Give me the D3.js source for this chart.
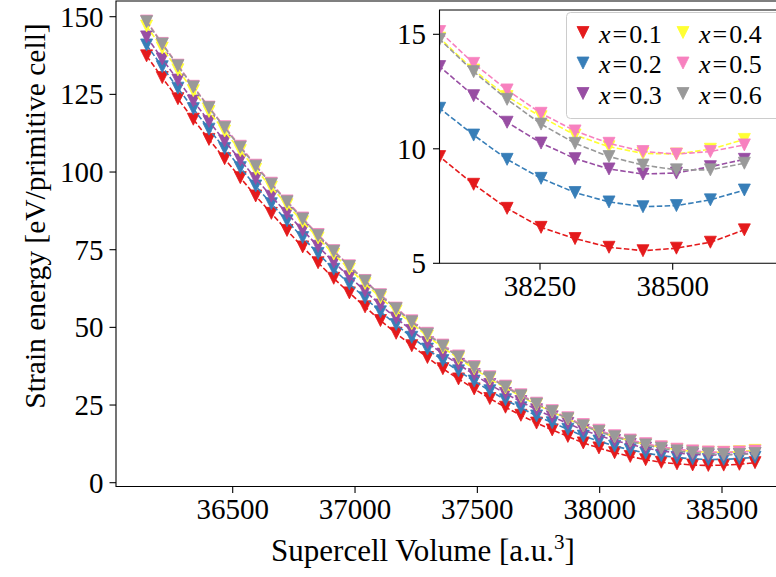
<!DOCTYPE html>
<html>
<head>
<meta charset="utf-8">
<script src="https://cdn.jsdelivr.net/npm/d3@7"></script>
<style>
  body { margin: 0; background: #fff; }
  svg { display: block; }
  text { font-family: "Liberation Serif", "DejaVu Serif", serif; fill: #000; }
</style>
</head>
<body>
<svg width="776" height="577"></svg>
<script>
// supercell volumes (a.u.^3), same for every composition
const volumes = [36148, 36212, 36276, 36339, 36403, 36467, 36531, 36594, 36658, 36722,
  36786, 36849, 36913, 36977, 37041, 37104, 37168, 37232, 37296, 37359,
  37423, 37487, 37551, 37615, 37678, 37742, 37806, 37870, 37933, 37997,
  38061, 38125, 38188, 38252, 38316, 38380, 38444, 38507, 38571, 38635]

// strain energy per composition x
const energyX01 = [137.4, 130.4, 123.6, 117.0, 110.5, 104.3, 98.2, 92.3, 86.7, 81.2,
  75.9, 70.8, 65.8, 61.1, 56.6, 52.2, 48.1, 44.1, 40.3, 36.7,
  33.4, 30.2, 27.1, 24.3, 21.7, 19.2, 17.0, 14.9, 12.8, 11.2,
  9.66, 8.45, 7.40, 6.57, 6.08, 5.70, 5.55, 5.66, 5.92, 6.46]
const energyX02 = [140.9, 133.9, 127.0, 120.4, 113.8, 107.6, 101.4, 95.5, 89.8, 84.3,
  78.9, 73.8, 68.7, 64.0, 59.5, 55.0, 50.9, 46.8, 43.0, 39.3,
  36.0, 32.7, 29.6, 26.7, 24.1, 21.5, 19.3, 17.2, 15.0, 13.4,
  11.77, 10.60, 9.54, 8.71, 8.09, 7.68, 7.47, 7.52, 7.77, 8.20]
const energyX03 = [143.5, 136.4, 129.6, 122.9, 116.3, 110.0, 103.9, 97.9, 92.2, 86.7,
  81.3, 76.1, 71.0, 66.3, 61.7, 57.2, 53.0, 49.0, 45.1, 41.4,
  38.1, 34.8, 31.6, 28.7, 26.1, 23.5, 21.2, 19.1, 16.9, 15.2,
  13.59, 12.32, 11.16, 10.25, 9.57, 9.12, 8.90, 8.94, 9.22, 9.54]
const energyX04 = [147.0, 139.9, 132.9, 126.2, 119.5, 113.2, 106.9, 100.9, 95.1, 89.5,
  84.0, 78.8, 73.6, 68.8, 64.1, 59.6, 55.3, 51.2, 47.2, 43.5,
  40.0, 36.7, 33.4, 30.5, 27.8, 25.1, 22.8, 20.5, 18.3, 16.5,
  14.83, 13.44, 12.28, 11.40, 10.60, 10.09, 9.80, 9.77, 9.98, 10.41]
const energyX05 = [148.6, 141.4, 134.4, 127.6, 120.9, 114.6, 108.3, 102.2, 96.4, 90.7,
  85.2, 79.9, 74.7, 69.8, 65.1, 60.5, 56.2, 52.1, 48.1, 44.3,
  40.8, 37.4, 34.1, 31.1, 28.3, 25.6, 23.2, 20.9, 18.7, 16.9,
  15.12, 13.73, 12.57, 11.55, 10.78, 10.24, 9.88, 9.77, 9.88, 10.17]
const energyX06 = [148.4, 141.2, 134.2, 127.4, 120.7, 114.3, 108.0, 101.9, 96.1, 90.4,
  84.9, 79.6, 74.5, 69.6, 64.9, 60.3, 56.0, 51.8, 47.8, 44.0,
  40.5, 37.1, 33.8, 30.8, 28.0, 25.3, 22.9, 20.6, 18.3, 16.5,
  14.78, 13.37, 12.16, 11.08, 10.24, 9.66, 9.29, 9.08, 9.08, 9.37]

const compositions = ['0.1', '0.2', '0.3', '0.4', '0.5', '0.6']
const colors = ['#e41a1c', '#377eb8', '#984ea3', '#ffff33', '#f781bf', '#999999']

const xTicks = [36500, 37000, 37500, 38000, 38500]
const yTicks = [0, 25, 50, 75, 100, 125, 150]
const insetXTicks = [38250, 38500]
const insetYTicks = [5, 10, 15]

// build series table
const allEnergies = [energyX01, energyX02, energyX03, energyX04, energyX05, energyX06]
const series = compositions.map((c, i) => ({
  label: c,
  color: colors[i],
  values: volumes.map((v, j) => ({ v: v, e: allEnergies[i][j] }))
}))

const svg = d3.select('svg')

// ---- main axes ----
const main = { left: 116, top: 1, right: 790, bottom: 486.5 }
const x = d3.scaleLinear().domain([36500, 38500]).range([232.7, 722])
const y = d3.scaleLinear().domain([0, 150]).range([482.7, 16.7])

// ---- inset axes ----
const inset = { left: 439.5, top: 10, right: 790, bottom: 263.3 }
const ix = d3.scaleLinear().domain([38250, 38500]).range([540, 672.7])
const iy = d3.scaleLinear().domain([5, 15]).range([263.3, 34.3])

// marker: downward triangle like matplotlib 'v'
const tri = 'M0,6 L-6,-6 L6,-6 Z'
const fontTick = 29

svg.append('defs').call(defs => {
  defs.append('clipPath').attr('id', 'clipMain')
    .append('rect')
    .attr('x', main.left).attr('y', main.top)
    .attr('width', main.right - main.left).attr('height', main.bottom - main.top)
  defs.append('clipPath').attr('id', 'clipInset')
    .append('rect')
    .attr('x', inset.left).attr('y', inset.top)
    .attr('width', inset.right - inset.left).attr('height', inset.bottom - inset.top)
})

function drawSeries(g, xs, ys) {
  const line = d3.line().x(d => xs(d.v)).y(d => ys(d.e))
  series.forEach(s => {
    g.append('path')
      .attr('d', line(s.values))
      .attr('fill', 'none')
      .attr('stroke', s.color)
      .attr('stroke-width', 1.6)
      .attr('stroke-dasharray', '5.5,2.4')
    g.selectAll(null).data(s.values).enter().append('path')
      .attr('d', tri)
      .attr('transform', d => `translate(${xs(d.v)},${ys(d.e)})`)
      .attr('fill', s.color)
      .attr('stroke', s.color)
      .attr('stroke-width', 0.8)
  })
}

// main data
const gMain = svg.append('g').attr('clip-path', 'url(#clipMain)')
drawSeries(gMain, x, y)

// main spines
svg.append('path')
  .attr('d', `M${main.right},${main.top}H${main.left}V${main.bottom}H${main.right}`)
  .attr('fill', 'none').attr('stroke', '#000').attr('stroke-width', 1.1)

// main x ticks
const gx = svg.append('g')
gx.selectAll('line').data(xTicks).enter().append('line')
  .attr('x1', d => x(d)).attr('x2', d => x(d))
  .attr('y1', main.bottom).attr('y2', main.bottom + 6.5)
  .attr('stroke', '#000').attr('stroke-width', 1.1)
gx.selectAll('text').data(xTicks).enter().append('text')
  .attr('x', d => x(d)).attr('y', 519)
  .attr('text-anchor', 'middle')
  .attr('font-size', fontTick)
  .text(d => d)

// main y ticks
const gy = svg.append('g')
gy.selectAll('line').data(yTicks).enter().append('line')
  .attr('x1', main.left - 6.5).attr('x2', main.left)
  .attr('y1', d => y(d)).attr('y2', d => y(d))
  .attr('stroke', '#000').attr('stroke-width', 1.1)
gy.selectAll('text').data(yTicks).enter().append('text')
  .attr('x', 103.5).attr('y', d => y(d) + 10)
  .attr('text-anchor', 'end')
  .attr('font-size', fontTick)
  .text(d => d)

// axis labels
svg.append('text')
  .attr('x', 423).attr('y', 561)
  .attr('text-anchor', 'middle')
  .attr('font-size', 31)
  .call(t => {
    t.append('tspan').text('Supercell Volume [a.u.')
    t.append('tspan').attr('font-size', 21).attr('dy', -12).text('3')
    t.append('tspan').attr('dy', 12).text(']')
  })

svg.append('text')
  .attr('transform', 'translate(45,216) rotate(-90)')
  .attr('text-anchor', 'middle')
  .attr('font-size', 29.5)
  .text('Strain energy [eV/primitive cell]')

// ---- inset ----
svg.append('rect')
  .attr('x', inset.left).attr('y', inset.top)
  .attr('width', inset.right - inset.left).attr('height', inset.bottom - inset.top)
  .attr('fill', '#fff')

const gInset = svg.append('g').attr('clip-path', 'url(#clipInset)')
drawSeries(gInset, ix, iy)

svg.append('path')
  .attr('d', `M${inset.right},${inset.top}H${inset.left}V${inset.bottom}H${inset.right}`)
  .attr('fill', 'none').attr('stroke', '#000').attr('stroke-width', 1.1)

const gix = svg.append('g')
gix.selectAll('line').data(insetXTicks).enter().append('line')
  .attr('x1', d => ix(d)).attr('x2', d => ix(d))
  .attr('y1', inset.bottom).attr('y2', inset.bottom + 6.5)
  .attr('stroke', '#000').attr('stroke-width', 1.1)
gix.selectAll('text').data(insetXTicks).enter().append('text')
  .attr('x', d => ix(d)).attr('y', 296)
  .attr('text-anchor', 'middle')
  .attr('font-size', fontTick)
  .text(d => d)

const giy = svg.append('g')
giy.selectAll('line').data(insetYTicks).enter().append('line')
  .attr('x1', inset.left - 6.5).attr('x2', inset.left)
  .attr('y1', d => iy(d)).attr('y2', d => iy(d))
  .attr('stroke', '#000').attr('stroke-width', 1.1)
giy.selectAll('text').data(insetYTicks).enter().append('text')
  .attr('x', 426).attr('y', d => iy(d) + 10)
  .attr('text-anchor', 'end')
  .attr('font-size', fontTick)
  .text(d => d)

// ---- legend (2 columns, 3 rows) ----
const legend = svg.append('g')
legend.append('rect')
  .attr('x', 566.5).attr('y', 12.5)
  .attr('width', 220).attr('height', 106)
  .attr('rx', 4)
  .attr('fill', '#fff').attr('fill-opacity', 0.8)
  .attr('stroke', '#cccccc').attr('stroke-width', 1)

const items = legend.selectAll('g.item').data(series).enter().append('g')
  .attr('class', 'item')
  .attr('transform', (d, i) => `translate(${i < 3 ? 583 : 683},${32.5 + (i % 3) * 30.5})`)
items.append('path')
  .attr('d', tri)
  .attr('fill', d => d.color)
  .attr('stroke', d => d.color)
  .attr('stroke-width', 0.8)
items.append('text')
  .attr('x', 16).attr('y', 10)
  .attr('font-size', 26)
  .call(t => {
    t.append('tspan').attr('font-style', 'italic').text('x')
    t.append('tspan').attr('dx', 2).text('=')
    t.append('tspan').attr('dx', 2).text(d => d.label)
  })
</script>
</body>
</html>
